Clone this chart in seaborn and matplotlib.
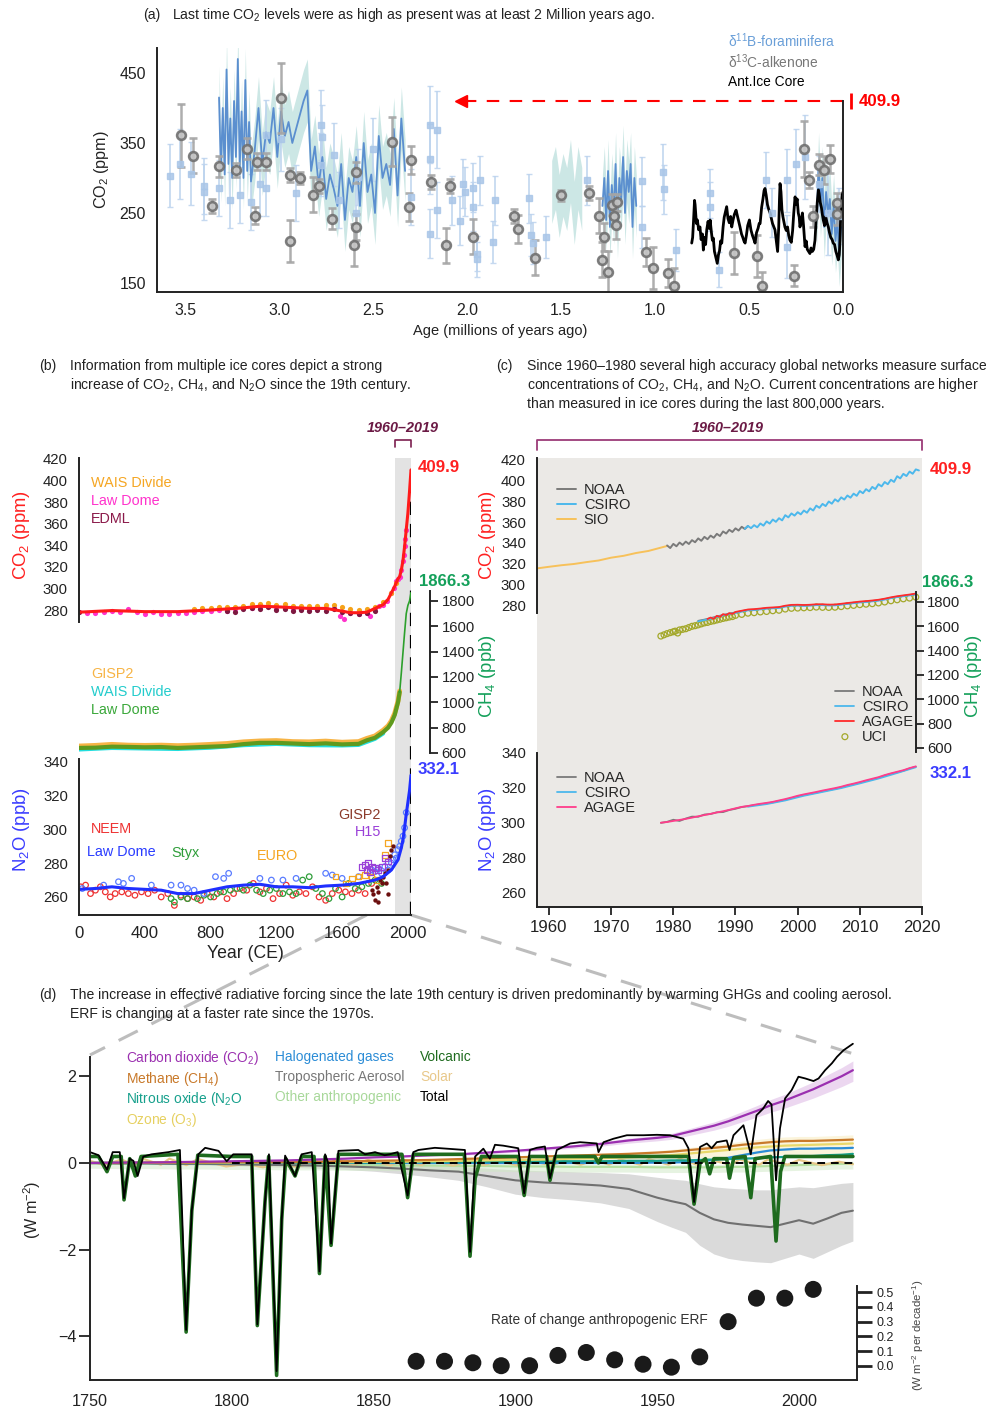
import numpy as np
import matplotlib
matplotlib.use('Agg')
import matplotlib.pyplot as plt
import seaborn as sns
from matplotlib import font_manager
from matplotlib.lines import Line2D

sns.set_theme(style='white')
names = {f.name for f in font_manager.fontManager.ttflist}
narrow = 'Liberation Sans Narrow' in names
fam = 'Liberation Sans Narrow' if narrow else 'Liberation Sans'
k = 1.0 if narrow else 0.86
plt.rcParams['font.family'] = [fam, 'DejaVu Sans']
plt.rcParams['mathtext.fontset'] = 'custom'
plt.rcParams['mathtext.rm'] = fam
plt.rcParams['mathtext.it'] = fam + ':italic'
plt.rcParams['mathtext.bf'] = fam + ':bold'

# ---------------- data: panel (a), age in Myr, CO2 in ppm ----------------
alkenone = [(3.52, 361, 45), (3.46, 332, 25), (3.36, 260, 10), (3.32, 317, 15), (3.23, 311, 10),
            (3.17, 342, 15), (3.13, 246, 12), (3.12, 323, 12), (3.07, 323, 12), (2.99, 414, 50),
            (2.94, 304, 10), (2.94, 210, 30), (2.89, 300, 8), (2.82, 276, 25), (2.79, 288, 10),
            (2.72, 242, 15), (2.60, 204, 30), (2.59, 230, 18), (2.59, 308, 15), (2.40, 352, 35),
            (2.30, 325, 20), (2.31, 258, 20), (2.19, 294, 10), (2.11, 204, 25), (2.09, 289, 10),
            (1.97, 216, 25), (1.75, 246, 10), (1.73, 227, 20), (1.64, 186, 25), (1.50, 275, 8),
            (1.35, 279, 10), (1.30, 246, 25), (1.27, 216, 20), (1.28, 183, 25), (1.25, 165, 30),
            (1.23, 262, 15), (1.22, 246, 15), (1.21, 233, 20), (1.20, 265, 12), (1.05, 194, 20),
            (1.01, 172, 30), (0.93, 164, 20), (0.90, 146, 25), (0.58, 193, 30), (0.46, 188, 30),
            (0.43, 146, 20), (0.26, 160, 15), (0.21, 342, 40), (0.18, 297, 12), (0.16, 245, 15),
            (0.13, 319, 15), (0.10, 312, 20), (0.07, 327, 20), (0.03, 264, 15), (0.03, 248, 15)]
boron_pts = [(3.58, 303, 45), (3.53, 320, 50), (3.47, 306, 45), (3.40, 288, 40), (3.40, 280, 40),
             (3.32, 286, 40), (3.26, 268, 40), (3.21, 275, 40), (3.15, 266, 40), (3.10, 291, 45),
             (3.07, 361, 50), (3.07, 285, 40), (2.99, 355, 45), (2.91, 278, 40), (2.78, 375, 50),
             (2.77, 359, 45), (2.78, 319, 45), (2.71, 333, 45), (2.68, 269, 40), (2.58, 302, 40),
             (2.59, 250, 40), (2.50, 341, 45), (2.30, 273, 40), (2.20, 376, 55), (2.20, 327, 50),
             (2.20, 220, 35), (2.16, 369, 55), (2.16, 254, 40), (2.08, 268, 35), (2.04, 239, 35),
             (2.02, 292, 35), (2.01, 280, 35), (1.97, 286, 35), (1.97, 259, 35), (1.95, 192, 25),
             (1.95, 184, 25), (1.93, 297, 35), (1.85, 268, 35), (1.86, 209, 30), (1.67, 271, 35),
             (1.66, 219, 30), (1.65, 207, 30), (1.58, 216, 30), (1.36, 297, 35), (1.07, 295, 35),
             (1.07, 230, 30), (0.96, 309, 40), (0.95, 284, 35), (0.89, 197, 30), (0.71, 278, 35),
             (0.71, 259, 35), (0.66, 169, 25), (0.41, 297, 40), (0.38, 250, 35), (0.30, 202, 45),
             (0.30, 297, 45), (0.25, 320, 50), (0.20, 330, 60), (0.13, 292, 40), (0.08, 250, 60),
             (0.02, 245, 40)]
boron_run1 = [(3.32, 415), (3.31, 310), (3.30, 400), (3.29, 305), (3.28, 455), (3.27, 320), (3.26, 385),
              (3.25, 300), (3.24, 410), (3.23, 330), (3.22, 470), (3.21, 315), (3.20, 395), (3.19, 300),
              (3.18, 440), (3.17, 310), (3.16, 380), (3.15, 295), (3.13, 340), (3.11, 400), (3.09, 320),
              (3.07, 365), (3.05, 350), (3.03, 400), (3.01, 330), (2.99, 395), (2.97, 360), (2.95, 380),
              (2.93, 350), (2.91, 370), (2.89, 390), (2.87, 410), (2.85, 425), (2.83, 310), (2.81, 345),
              (2.79, 290), (2.77, 330), (2.75, 270), (2.73, 305), (2.71, 285), (2.69, 260), (2.67, 320),
              (2.65, 240), (2.63, 300), (2.61, 280), (2.59, 330), (2.57, 260), (2.55, 350), (2.53, 280),
              (2.51, 305), (2.49, 250), (2.47, 360), (2.45, 300), (2.43, 320), (2.41, 290), (2.39, 370),
              (2.37, 275), (2.35, 385), (2.33, 310)]
boron_run2 = [(1.28, 260), (1.27, 300), (1.26, 240), (1.25, 310), (1.24, 230), (1.23, 290), (1.22, 250),
              (1.21, 320), (1.20, 230), (1.19, 300), (1.18, 270), (1.17, 330), (1.16, 250), (1.15, 310),
              (1.14, 280), (1.13, 320), (1.12, 230), (1.11, 300), (1.10, 260)]
boron_run3 = [(0.14, 240), (0.13, 320), (0.12, 260), (0.11, 300), (0.10, 230), (0.09, 280), (0.08, 250),
              (0.07, 270), (0.06, 220), (0.05, 260), (0.04, 210), (0.03, 240), (0.02, 190), (0.01, 230)]
boron_band_only = [(1.55, 280), (1.53, 300), (1.51, 260), (1.49, 290), (1.47, 270), (1.45, 310),
                   (1.43, 250), (1.41, 300), (1.39, 270)]
boron_unc = 45
ice_core = [(0.805, 207), (0.800, 215), (0.795, 240), (0.790, 268), (0.787, 262), (0.780, 235), (0.775, 240),
            (0.768, 226), (0.761, 230), (0.755, 212), (0.748, 220), (0.743, 197), (0.737, 215), (0.731, 205),
            (0.725, 226), (0.718, 238), (0.712, 228), (0.707, 240), (0.700, 222), (0.695, 211), (0.690, 214),
            (0.684, 195), (0.676, 186), (0.669, 178), (0.663, 190), (0.657, 196), (0.651, 210), (0.645, 207),
            (0.638, 230), (0.632, 244), (0.625, 252), (0.619, 259), (0.612, 242), (0.605, 236), (0.598, 245),
            (0.592, 230), (0.585, 240), (0.578, 248), (0.569, 254), (0.562, 246), (0.555, 238), (0.548, 230),
            (0.540, 220), (0.533, 215), (0.527, 210), (0.521, 207), (0.514, 218), (0.507, 232), (0.498, 240),
            (0.490, 226), (0.482, 218), (0.474, 212), (0.468, 207), (0.460, 222), (0.452, 228), (0.446, 235),
            (0.441, 235), (0.433, 258), (0.426, 270), (0.420, 282), (0.415, 285), (0.409, 276), (0.402, 262),
            (0.395, 255), (0.388, 250), (0.381, 242), (0.375, 235), (0.368, 230), (0.362, 226), (0.355, 210),
            (0.348, 195), (0.342, 230), (0.338, 270), (0.335, 292), (0.330, 280), (0.325, 255), (0.320, 245),
            (0.315, 238), (0.309, 230), (0.302, 225), (0.295, 230), (0.289, 218), (0.282, 211), (0.275, 208),
            (0.268, 225), (0.262, 250), (0.255, 273), (0.250, 262), (0.244, 270), (0.238, 250), (0.233, 244),
            (0.229, 230), (0.222, 238), (0.216, 250), (0.210, 232), (0.202, 202), (0.196, 210), (0.190, 198),
            (0.183, 195), (0.176, 192), (0.170, 200), (0.163, 195), (0.156, 198), (0.149, 211), (0.143, 240),
            (0.137, 265), (0.131, 283), (0.127, 278), (0.121, 265), (0.115, 258), (0.110, 248), (0.105, 240),
            (0.098, 232), (0.092, 245), (0.085, 236), (0.078, 230), (0.072, 222), (0.065, 215), (0.058, 212),
            (0.052, 207), (0.045, 205), (0.038, 195), (0.032, 190), (0.025, 183), (0.020, 190), (0.016, 210),
            (0.012, 250), (0.008, 265), (0.005, 275), (0.002, 278), (0.000, 280)]
co2_present = 409.9
arrow_reach = 2.03

# ---------------- data: panel (b), year CE ----------------
lawdome_co2 = [(0, 278), (50, 277), (100, 277.5), (150, 278), (200, 279), (250, 278), (300, 281), (350, 278),
               (400, 276.5), (450, 278), (500, 276), (550, 276.5), (600, 277), (650, 277.5), (700, 278),
               (750, 279), (800, 279.5), (850, 280), (900, 279), (950, 280.5), (1000, 281.5), (1050, 282),
               (1100, 283), (1150, 283.5), (1200, 282), (1250, 282), (1300, 281), (1350, 281), (1400, 280.5),
               (1450, 281), (1500, 281.5), (1550, 282), (1590, 274), (1610, 272), (1650, 277), (1700, 276.5),
               (1750, 277), (1770, 274), (1800, 282), (1825, 284), (1850, 285), (1875, 288), (1900, 296),
               (1915, 300), (1930, 307), (1940, 309), (1950, 311), (1960, 317), (1970, 325), (1975, 331),
               (1980, 339), (1985, 346), (1990, 354)]
edml_co2 = [(0, 278), (900, 279), (950, 278), (1000, 281), (1050, 282), (1100, 281), (1150, 282.5), (1200, 280),
            (1250, 281), (1300, 279.5), (1350, 280), (1400, 279), (1450, 280), (1500, 279.5), (1550, 280.5),
            (1600, 278), (1650, 277), (1700, 276.5), (1750, 277.5), (1800, 279)]
wais_co2 = [(700, 281), (750, 282), (800, 282), (850, 283), (900, 282.5), (950, 283), (1000, 284), (1050, 285.5),
            (1100, 286), (1150, 286.5), (1200, 285), (1250, 285.5), (1300, 284), (1350, 284), (1400, 283.5),
            (1450, 284), (1500, 284.5), (1550, 285), (1600, 283), (1650, 281), (1700, 280), (1750, 281),
            (1800, 283), (1850, 287), (1900, 296), (1930, 305)]
co2_spline = [(0, 278), (200, 279.5), (400, 278.5), (600, 278.5), (800, 280), (1000, 282), (1100, 283.5),
              (1200, 283), (1400, 281.5), (1500, 281.5), (1600, 279), (1650, 277.5), (1700, 277.5), (1750, 278),
              (1800, 281.5), (1850, 285), (1880, 290), (1900, 296), (1920, 302), (1940, 309), (1950, 311),
              (1960, 316.9), (1970, 325.7), (1980, 338.8), (1990, 354.4), (2000, 369.7), (2010, 389.9),
              (2019, 409.9)]
lawdome_ch4 = [(0, 640), (100, 642), (200, 650), (300, 648), (400, 645), (500, 647), (600, 640), (700, 645),
               (800, 650), (900, 655), (1000, 670), (1100, 680), (1200, 680), (1300, 675), (1400, 670), (1500, 676),
               (1600, 668), (1700, 672), (1750, 700), (1800, 720), (1850, 765), (1880, 800), (1900, 840),
               (1920, 900), (1940, 1000), (1950, 1080)]
gisp2_ch4 = [(0, 655), (100, 660), (200, 668), (300, 662), (400, 660), (500, 662), (600, 658), (700, 662),
             (800, 668), (900, 675), (1000, 688), (1100, 695), (1200, 698), (1300, 690), (1400, 688), (1500, 694),
             (1600, 685), (1700, 690), (1750, 715), (1800, 735), (1850, 780), (1880, 815), (1900, 855),
             (1920, 915), (1940, 1010), (1950, 1090)]
wais_ch4 = [(0, 628), (200, 640), (400, 636), (600, 632), (800, 642), (1000, 662), (1200, 672), (1400, 662),
            (1600, 660), (1700, 664), (1800, 712), (1850, 755)]
ch4_recent = [(1950, 1080), (1960, 1230), (1970, 1390), (1980, 1550), (1990, 1700), (2000, 1765), (2010, 1800),
              (2019, 1866)]
n2o_spline = [(0, 264.5), (100, 265), (200, 266), (300, 265), (400, 264.5), (500, 264), (600, 262), (700, 262),
              (800, 264), (900, 266), (1000, 267), (1100, 267.5), (1200, 266), (1300, 266), (1400, 265.5),
              (1500, 266.5), (1600, 267), (1700, 268), (1750, 269), (1800, 270), (1850, 272), (1900, 276),
              (1940, 282), (1960, 289), (1970, 294), (1980, 301), (1990, 309), (2000, 316), (2010, 323),
              (2019, 332.1)]
neem_n2o = [(10, 266), (40, 267), (70, 262), (100, 264), (130, 266), (160, 263), (190, 260), (220, 262), (260, 263),
            (300, 262), (340, 261), (380, 263), (420, 262), (460, 264), (500, 260), (540, 262), (580, 255),
            (620, 261), (660, 259), (700, 260), (740, 258), (780, 262), (820, 260), (860, 263), (900, 259),
            (940, 262), (980, 265), (1020, 264), (1060, 268), (1100, 263), (1140, 265), (1180, 259), (1220, 262),
            (1260, 267), (1300, 261), (1340, 263), (1380, 262), (1420, 266), (1460, 260), (1500, 258),
            (1540, 262), (1580, 264), (1620, 263), (1660, 262), (1700, 264), (1740, 262), (1780, 268)]
lawdome_n2o = [(20, 265), (150, 267), (240, 269), (270, 268), (320, 271), (440, 267), (560, 267), (620, 267),
               (660, 265), (700, 264), (760, 262), (830, 272), (880, 271), (910, 274), (1100, 271), (1170, 270),
               (1240, 270), (1320, 271), (1500, 274), (1540, 273), (1600, 271), (1700, 272), (1780, 276),
               (1800, 275), (1820, 277), (1840, 274), (1860, 278), (1880, 276), (1900, 280), (1910, 282),
               (1920, 285), (1930, 283), (1940, 288), (1950, 290), (1960, 293), (1970, 296), (1980, 301),
               (1990, 310)]
styx_n2o = [(560, 259), (580, 257), (620, 260), (660, 259), (720, 259), (760, 261), (800, 260), (840, 262),
            (880, 263), (920, 264), (960, 265), (1000, 264), (1040, 267), (1080, 264), (1120, 262), (1160, 264),
            (1200, 265), (1240, 262), (1280, 263), (1320, 262), (1360, 270), (1400, 272), (1440, 265),
            (1480, 262), (1520, 259), (1560, 265), (1600, 260), (1640, 268), (1680, 265), (1720, 266),
            (1760, 268), (1800, 270), (1840, 268)]
euro_n2o = [(1560, 272), (1620, 268), (1660, 271), (1700, 272), (1740, 273), (1780, 272), (1820, 270),
            (1860, 285), (1880, 292)]
gisp2_n2o = [(1780, 264), (1790, 262), (1800, 258), (1810, 266), (1820, 263), (1830, 270), (1840, 268),
             (1850, 272), (1860, 274), (1870, 268), (1880, 276), (1890, 284), (1900, 288), (1910, 290),
             (1880, 262), (1820, 257)]
h15_n2o = [(1720, 278), (1740, 279), (1750, 276), (1760, 280), (1770, 275), (1780, 278), (1800, 277),
           (1820, 276), (1840, 278), (1860, 283), (1880, 281)]
recent_span = (1922, 2019)

# ---------------- data: panel (c), surface networks ----------------
sio_co2 = [(1958, 315.3), (1960, 316.9), (1962, 318.4), (1964, 319.6), (1966, 321.4), (1968, 323.0),
           (1970, 325.7), (1972, 327.5), (1974, 330.2), (1976, 332.2), (1978, 335.4), (1979, 337.0)]
noaa_co2 = [(1979.0, 337.5), (1979.5, 335.0), (1980.0, 339.0), (1980.5, 336.7), (1981.0, 340.3), (1981.5, 338.0),
            (1982.0, 341.2), (1982.5, 338.9), (1983.0, 342.6), (1983.5, 340.6), (1984.0, 344.3), (1984.5, 342.0),
            (1985.0, 345.8), (1985.5, 343.5), (1986.0, 347.0), (1986.5, 344.9), (1987.0, 348.7), (1987.5, 346.6),
            (1988.0, 351.0), (1988.5, 349.0), (1989.0, 352.6), (1989.5, 350.5), (1990.0, 354.0), (1990.5, 351.9),
            (1991.0, 355.5), (1991.5, 353.4), (1992.0, 356.3)]
csiro_co2 = [(1991.5, 353.6), (1992.0, 356.3), (1992.5, 354.2), (1993.0, 357.1), (1993.5, 355.0), (1994.0, 358.7),
             (1994.5, 356.6), (1995.0, 360.7), (1995.5, 358.6), (1996.0, 362.5), (1996.5, 360.3), (1997.0, 363.8),
             (1997.5, 361.7), (1998.0, 366.7), (1998.5, 364.6), (1999.0, 368.4), (1999.5, 366.3), (2000.0, 369.6),
             (2000.5, 367.5), (2001.0, 371.2), (2001.5, 369.1), (2002.0, 373.3), (2002.5, 371.2), (2003.0, 375.9),
             (2003.5, 373.8), (2004.0, 377.6), (2004.5, 375.5), (2005.0, 379.9), (2005.5, 377.8), (2006.0, 382.0),
             (2006.5, 379.9), (2007.0, 383.9), (2007.5, 381.8), (2008.0, 385.7), (2008.5, 383.6), (2009.0, 387.5),
             (2009.5, 385.4), (2010.0, 390.0), (2010.5, 387.9), (2011.0, 391.8), (2011.5, 389.7), (2012.0, 394.0),
             (2012.5, 391.9), (2013.0, 396.6), (2013.5, 394.5), (2014.0, 398.7), (2014.5, 396.6), (2015.0, 400.9),
             (2015.5, 398.8), (2016.0, 404.3), (2016.5, 402.2), (2017.0, 406.6), (2017.5, 404.5), (2018.0, 408.8),
             (2018.5, 406.7), (2019.0, 410.9), (2019.5, 409.9)]
net_years = [1984, 1985, 1986, 1987, 1988, 1989, 1990, 1991, 1992, 1993, 1994, 1995, 1996, 1997, 1998, 1999,
             2000, 2001, 2002, 2003, 2004, 2005, 2006, 2007, 2008, 2009, 2010, 2011, 2012, 2013, 2014, 2015,
             2016, 2017, 2018, 2019]
noaa_ch4 = [1645, 1655, 1667, 1681, 1693, 1705, 1714, 1724, 1735, 1737, 1742, 1749, 1751, 1754, 1765, 1772,
            1773, 1771, 1773, 1777, 1777, 1774, 1775, 1781, 1787, 1793, 1799, 1803, 1808, 1814, 1823, 1834,
            1843, 1850, 1857, 1866]
csiro_ch4 = [1640, 1651, 1662, 1677, 1689, 1701, 1710, 1721, 1731, 1734, 1739, 1745, 1748, 1751, 1762, 1769,
             1770, 1768, 1770, 1774, 1774, 1771, 1772, 1778, 1784, 1790, 1796, 1800, 1805, 1811, 1820, 1831,
             1840, 1847, 1854, 1863]
agage_ch4 = [(1985.5, 1660), (1986, 1672), (1986.5, 1662), (1987, 1686), (1987.5, 1678), (1988, 1700), (1988.5, 1692),
             (1989, 1708), (1989.5, 1702), (1990, 1718), (1991, 1728), (1992, 1738), (1993, 1741), (1994, 1746),
             (1995, 1752), (1996, 1755), (1997, 1758), (1998, 1769), (1999, 1776), (2000, 1777), (2001, 1775),
             (2002, 1777), (2003, 1781), (2004, 1781), (2005, 1778), (2006, 1779), (2007, 1785), (2008, 1791),
             (2009, 1797), (2010, 1803), (2011, 1807), (2012, 1812), (2013, 1818), (2014, 1827), (2015, 1838),
             (2016, 1847), (2017, 1854), (2018, 1861), (2019, 1869)]
uci_ch4 = [(1978.0, 1520), (1978.5, 1530), (1979.0, 1540), (1979.5, 1548), (1980.0, 1555), (1980.3, 1560),
           (1980.7, 1545), (1981.0, 1570), (1981.5, 1575), (1982.0, 1580), (1982.5, 1590), (1983.0, 1600),
           (1983.5, 1605), (1984.0, 1612), (1984.5, 1620), (1985.0, 1628), (1985.5, 1632), (1986.0, 1640),
           (1986.5, 1645), (1987.0, 1652), (1987.5, 1658), (1988.0, 1665), (1988.5, 1670), (1989.0, 1676),
           (1989.5, 1680), (1990.0, 1690), (1991, 1698), (1992, 1708), (1993, 1712), (1994, 1718), (1995, 1722),
           (1996, 1728), (1997, 1732), (1998, 1742), (1999, 1748), (2000, 1750), (2001, 1752), (2002, 1754),
           (2003, 1758), (2004, 1756), (2005, 1755), (2006, 1757), (2007, 1762), (2008, 1768), (2009, 1772),
           (2010, 1778), (2011, 1782), (2012, 1786), (2013, 1792), (2014, 1800), (2015, 1810), (2016, 1818),
           (2017, 1826), (2018, 1832), (2019, 1840)]
n2o_years = [1978, 1979, 1980, 1981, 1982, 1983, 1984, 1985, 1986, 1987, 1988, 1989, 1990, 1991, 1992, 1993,
             1994, 1995, 1996, 1997, 1998, 1999, 2000, 2001, 2002, 2003, 2004, 2005, 2006, 2007, 2008, 2009,
             2010, 2011, 2012, 2013, 2014, 2015, 2016, 2017, 2018, 2019]
noaa_n2o = [299.8, 300.4, 301.6, 300.9, 302.3, 303.4, 303.3, 304.6, 304.9, 305.9, 306.0, 307.2, 307.9, 308.9,
            309.4, 310.0, 310.5, 311.0, 311.6, 312.4, 313.1, 314.0, 315.0, 315.8, 316.5, 317.2, 318.0, 318.7,
            319.4, 320.2, 321.2, 322.0, 322.9, 323.9, 324.8, 325.7, 327.0, 328.0, 328.9, 329.8, 331.1, 332.1]
agage_n2o = [299.9, 300.3, 300.9, 301.5, 302.1, 302.8, 303.6, 304.3, 305.0, 305.8, 306.5, 307.3, 308.2, 309.0,
             309.5, 310.2, 310.8, 311.3, 311.9, 312.7, 313.5, 314.4, 315.4, 316.2, 316.9, 317.6, 318.4, 319.1,
             319.8, 320.6, 321.6, 322.4, 323.3, 324.3, 325.2, 326.1, 327.3, 328.3, 329.2, 330.1, 331.3, 332.3]
csiro_n2o = [(1992, 309.1), (1995, 310.6), (1998, 312.7), (2001, 315.4), (2004, 317.6), (2007, 319.8),
             (2010, 322.5), (2013, 325.3), (2016, 328.5), (2019, 331.8)]

# ---------------- data: panel (d), ERF in W m-2 ----------------
erf_years = [1750, 1760, 1770, 1780, 1790, 1800, 1810, 1820, 1830, 1840, 1850, 1860, 1870, 1880, 1890, 1900,
             1910, 1920, 1930, 1940, 1950, 1955, 1960, 1965, 1970, 1975, 1980, 1985, 1990, 1995, 2000, 2005,
             2010, 2015, 2019]
erf_co2 = [0.00, 0.01, 0.01, 0.02, 0.03, 0.04, 0.05, 0.06, 0.08, 0.10, 0.13, 0.15, 0.18, 0.20, 0.24, 0.28,
           0.33, 0.38, 0.44, 0.52, 0.58, 0.62, 0.70, 0.78, 0.86, 0.96, 1.08, 1.20, 1.33, 1.44, 1.57, 1.70,
           1.85, 2.00, 2.14]
erf_ch4 = [0.00, 0.00, 0.01, 0.01, 0.01, 0.02, 0.02, 0.02, 0.03, 0.04, 0.05, 0.06, 0.07, 0.09, 0.11, 0.13,
           0.15, 0.17, 0.19, 0.21, 0.24, 0.26, 0.29, 0.32, 0.35, 0.38, 0.42, 0.45, 0.48, 0.50, 0.51, 0.51,
           0.52, 0.53, 0.54]
erf_n2o = [0.00, 0.00, 0.00, 0.00, 0.00, 0.00, 0.01, 0.01, 0.01, 0.01, 0.01, 0.02, 0.02, 0.02, 0.03, 0.03,
           0.04, 0.04, 0.04, 0.05, 0.05, 0.06, 0.06, 0.07, 0.08, 0.09, 0.10, 0.11, 0.13, 0.14, 0.15, 0.16,
           0.18, 0.19, 0.21]
erf_halo = [0.00, 0.00, 0.00, 0.00, 0.00, 0.00, 0.00, 0.00, 0.00, 0.00, 0.00, 0.00, 0.00, 0.00, 0.00, 0.00,
            0.00, 0.00, 0.00, 0.00, 0.01, 0.01, 0.02, 0.04, 0.07, 0.12, 0.18, 0.24, 0.29, 0.31, 0.33, 0.33,
            0.34, 0.34, 0.35]
erf_o3 = [0.00, 0.00, 0.00, 0.01, 0.01, 0.01, 0.01, 0.02, 0.02, 0.02, 0.03, 0.03, 0.04, 0.05, 0.06, 0.07,
          0.08, 0.10, 0.11, 0.13, 0.16, 0.18, 0.21, 0.24, 0.27, 0.30, 0.33, 0.36, 0.38, 0.40, 0.41, 0.42,
          0.43, 0.44, 0.45]
erf_aer = [0.00, -0.01, -0.01, -0.02, -0.02, -0.03, -0.04, -0.05, -0.06, -0.08, -0.10, -0.13, -0.17, -0.20,
           -0.30, -0.40, -0.45, -0.48, -0.52, -0.60, -0.80, -0.88, -0.95, -1.15, -1.30, -1.38, -1.42, -1.45,
           -1.48, -1.40, -1.32, -1.40, -1.28, -1.15, -1.10]
erf_aer_hi = [0.00, 0.00, 0.00, 0.00, -0.01, -0.01, -0.01, -0.02, -0.02, -0.03, -0.03, -0.04, -0.06, -0.08,
              -0.12, -0.16, -0.18, -0.20, -0.22, -0.25, -0.33, -0.37, -0.40, -0.48, -0.55, -0.58, -0.60, -0.62,
              -0.62, -0.58, -0.55, -0.57, -0.52, -0.47, -0.45]
erf_aer_lo = [0.00, -0.02, -0.03, -0.04, -0.05, -0.06, -0.08, -0.10, -0.12, -0.15, -0.19, -0.25, -0.32, -0.40,
              -0.55, -0.72, -0.80, -0.85, -0.92, -1.05, -1.35, -1.48, -1.60, -1.90, -2.10, -2.20, -2.25, -2.28,
              -2.30, -2.20, -2.10, -2.20, -2.05, -1.90, -1.80]
erf_other = [0.00, -0.01, -0.01, -0.02, -0.02, -0.03, -0.03, -0.04, -0.04, -0.05, -0.05, -0.06, -0.06, -0.07,
             -0.07, -0.08, -0.08, -0.09, -0.09, -0.09, -0.10, -0.10, -0.10, -0.10, -0.10, -0.09, -0.09, -0.08,
             -0.07, -0.06, -0.05, -0.04, -0.03, -0.02, -0.02]
erf_solar = [(1750, 0.05), (1755, -0.05), (1761, 0.08), (1766, -0.05), (1769, 0.09), (1775, -0.04), (1778, 0.10),
             (1784, -0.05), (1788, 0.09), (1798, -0.08), (1805, -0.02), (1811, -0.10), (1816, -0.02), (1823, -0.09),
             (1830, 0.04), (1833, -0.05), (1837, 0.08), (1843, -0.04), (1848, 0.07), (1856, -0.06), (1860, 0.08),
             (1867, -0.05), (1870, 0.07), (1878, -0.06), (1884, 0.05), (1889, -0.05), (1894, 0.05), (1901, -0.06),
             (1906, 0.04), (1913, -0.06), (1917, 0.06), (1923, -0.04), (1928, 0.07), (1933, -0.04), (1937, 0.08),
             (1944, -0.04), (1947, 0.09), (1954, -0.04), (1958, 0.10), (1964, -0.04), (1968, 0.08), (1976, -0.04),
             (1979, 0.08), (1986, -0.04), (1989, 0.08), (1996, -0.04), (2000, 0.07), (2008, -0.05), (2014, 0.03),
             (2019, -0.03)]
erf_volcanic = [(1750, 0.15), (1753, 0.15), (1756, -0.2), (1758, 0.15), (1761, 0.15), (1762, -0.85), (1764, 0.1),
                (1766, -0.3), (1768, 0.15), (1781, 0.2), (1783.9, -3.9), (1785.9, -1.1), (1788, 0.18), (1800, 0.15),
                (1807, 0.15), (1809, -3.75), (1811.7, -0.9), (1813, 0.15), (1815.8, -4.9), (1817.6, -1.3),
                (1819, 0.1), (1822.3, -0.3), (1824.6, 0.15), (1829, 0.15), (1830.9, -2.55), (1832.9, 0.15),
                (1835, -1.9), (1837.6, 0.2), (1860, 0.2), (1862, -0.8), (1864, 0.2), (1882, 0.2), (1884, -2.15),
                (1885.8, -0.35), (1888, 0.15), (1901, 0.15), (1903.1, -0.75), (1905, 0.15), (1911, 0.15),
                (1912.2, -0.4), (1914, 0.15), (1928, 0.15), (1929.3, 0.0), (1930.5, 0.15), (1961, 0.15),
                (1963, -0.95), (1965.1, 0.0), (1967, 0.1), (1968.5, -0.25), (1970, 0.1), (1974.5, 0.1),
                (1975.5, -0.35), (1977, 0.12), (1981, 0.15), (1983, -0.8), (1984.5, 0.1), (1990, 0.15),
                (1991.9, -1.8), (1993.5, -0.2), (1995, 0.15), (2019, 0.15)]
erf_total = [(1750, 0.25), (1753, 0.18), (1756, -0.15), (1758, 0.25), (1760.5, 0.25), (1762, -0.81), (1764, 0.1),
             (1765.3, 0.05), (1766.8, -0.3), (1768.8, 0.15), (1771.7, 0.2), (1777.6, 0.25), (1781.7, 0.3),
             (1783.9, -3.85), (1785.9, -1.08), (1788.2, 0.2), (1790.6, 0.35), (1795.3, 0.28), (1798.2, 0.04),
             (1800.5, 0.2), (1807, 0.2), (1809, -3.72), (1811.7, -0.9), (1813.1, 0.2), (1815.8, -4.8),
             (1817.6, -1.3), (1818.8, 0.17), (1822.3, -0.3), (1824.6, 0.2), (1828.2, 0.25), (1830.9, -2.5),
             (1832.9, 0.2), (1834, 0.0), (1835, -1.86), (1837.6, 0.28), (1844.6, 0.3), (1847, 0.2), (1850.5, 0.25),
             (1853.9, 0.18), (1855.6, 0.2), (1858.5, 0.25), (1862, -0.75), (1864, 0.25), (1865.8, 0.3),
             (1871.6, 0.35), (1882.2, 0.3), (1884, -2.05), (1885.8, 0.15), (1888.7, 0.33), (1891, 0.1),
             (1892.8, 0.42), (1895.7, 0.4), (1901, 0.34), (1903.1, -0.7), (1905.1, 0.3), (1907.5, 0.35),
             (1910.4, 0.38), (1912.2, -0.35), (1914.6, 0.3), (1919.3, 0.45), (1922.8, 0.48), (1928.7, 0.45),
             (1929.3, 0.25), (1931.1, 0.48), (1934.6, 0.56), (1939.3, 0.64), (1945.2, 0.64), (1949.9, 0.65),
             (1954.5, 0.64), (1959.2, 0.56), (1961, 0.34), (1963, -0.9), (1965.1, 0.37), (1967.5, 0.45),
             (1969.2, 0.34), (1971, 0.48), (1974.5, 0.52), (1975.5, 0.3), (1976.9, 0.64), (1980.4, 0.87),
             (1983, 0.2), (1985, 1.1), (1987.3, 1.25), (1989.1, 1.43), (1990.3, 1.35), (1991.9, -0.4),
             (1993.3, 0.8), (1995.1, 1.49), (1997.4, 1.68), (1999.8, 1.99), (2002.2, 1.95), (2005.1, 1.89),
             (2006.9, 1.95), (2009.2, 2.14), (2011.6, 2.3), (2013.4, 2.45), (2015.7, 2.6), (2019, 2.75)]
decade_mid = [1865, 1875, 1885, 1895, 1905, 1915, 1925, 1935, 1945, 1955, 1965, 1975, 1985, 1995, 2005]
erf_rate = [0.03, 0.03, 0.02, 0.0, 0.0, 0.07, 0.09, 0.04, 0.01, -0.01, 0.06, 0.30, 0.46, 0.46, 0.52]

# ---------------- colours ----------------
RED, GREEN, BLUE = '#ff2020', '#14a05a', '#3a3cff'
INK = '#222222'
TITLE = 11.7


def xy(pairs):
    a = np.array(pairs, dtype=float)
    return a[:, 0], a[:, 1]


W, H = 986, 1409
fig = plt.figure(figsize=(W / 100, H / 100), dpi=100)


def box(x0, y0, x1, y1):
    return fig.add_axes([x0 / W, 1 - y1 / H, (x1 - x0) / W, (y1 - y0) / H])


def txt(x, y, s, size=11, **kw):
    kw.setdefault('va', 'center')
    kw.setdefault('color', INK)
    fig.text(x / W, 1 - y / H, s, fontsize=size * k, **kw)


def clean(ax, keep=('left', 'bottom'), size=12.5):
    ax.patch.set_alpha(0)
    for s in ['left', 'right', 'top', 'bottom']:
        ax.spines[s].set_visible(s in keep)
        ax.spines[s].set_color(INK)
        ax.spines[s].set_linewidth(1.4)
    ax.tick_params(colors=INK, labelsize=size * k, length=6, width=1.3, pad=2)


# ======================= panel (a) =======================
ax = box(157, 48, 843, 292)
clean(ax, keep=('left', 'bottom', 'right'), size=13.3)
ax.set_xlim(3.65, 0.0)
ax.set_ylim(137.1, 485.7)
ax.spines['right'].set_bounds(137.1, co2_present)
ax.tick_params(axis='y', right=False, labelright=False)
ax.set_xticks([3.5, 3.0, 2.5, 2.0, 1.5, 1.0, 0.5, 0.0])
ax.set_xticklabels(['3.5', '3.0', '2.5', '2.0', '1.5', '1.0', '0.5', '0.0'])
ax.set_yticks([150, 250, 350, 450])

for run in [boron_run1, boron_run2, boron_run3, boron_band_only]:
    ra, rc = xy(run)
    ax.fill_between(ra, rc - boron_unc, rc + boron_unc, color='#8fcac6', alpha=0.45, lw=0)
ba, bc = xy([p[:2] for p in boron_pts])
ax.errorbar(ba, bc, yerr=[p[2] for p in boron_pts], fmt='s', ms=4, color='#a9c6e8', ecolor='#bcd3ee',
            elinewidth=1.3, capsize=2.5, alpha=0.85)
for run in [boron_run1, boron_run2, boron_run3]:
    ra, rc = xy(run)
    ax.plot(ra, rc, color='#5b8fcf', lw=1.3)
aa, ac = xy([p[:2] for p in alkenone])
ax.errorbar(aa, ac, yerr=[p[2] for p in alkenone], fmt='o', ms=6.3, mfc='#c4c4c4', mec='#707070', mew=1.9,
            ecolor='#a5a5a5', elinewidth=1.8, capsize=3, alpha=0.9)
ia, ic = xy(ice_core)
ax.plot(ia, ic, color='black', lw=2)
ax.plot([0.0, arrow_reach - 0.03], [co2_present, co2_present], color='red', lw=1.5, ls=(0, (6, 5)))
ax.plot([arrow_reach], [co2_present], marker='<', color='red', ms=8)
ax.plot([-0.045], [co2_present], marker='|', color='red', ms=12, mew=2, clip_on=False)
ax.text(-0.085, co2_present, '409.9', color='red', fontsize=14 * k, fontweight='bold', va='center')
ax.set_xlabel('Age (millions of years ago)', fontsize=12.3 * k, color=INK, labelpad=4)
ax.set_ylabel('CO$_2$ (ppm)', fontsize=13.5 * k, color=INK, labelpad=6)

txt(143, 15, '(a)', TITLE)
txt(172, 15, 'Last time CO$_2$ levels were as high as present was at least 2 Million years ago.', TITLE)
txt(728, 41, 'δ$^{11}$B-foraminifera', 11.5, color='#6a9fd8')
txt(728, 62, 'δ$^{13}$C-alkenone', 11.5, color='#777777')
txt(728, 82, 'Ant.Ice Core', 11.5, color='black')

# ======================= panel (b) =======================
XB = (0, 2019)
bgb = box(79, 458, 411, 915)
bgb.set_xlim(*XB)
bgb.set_ylim(0, 1)
bgb.axis('off')
bgb.axvspan(recent_span[0], recent_span[1], ymin=0, ymax=1, color='#e3e3e3', lw=0)
bgb.axvline(recent_span[1], ymin=0, ymax=0.974, color='black', lw=1.6, ls=(0, (6, 4)))
bgb.plot([recent_span[0], recent_span[0], recent_span[1], recent_span[1]], [1.024, 1.039, 1.039, 1.024],
         color='#7b1f4f', lw=1.2, clip_on=False, transform=bgb.get_xaxis_transform())
txt(403, 428, '1960–2019', 12, color='#6b1a45', ha='center', style='italic', fontweight='bold')

axc = box(79, 458, 411, 622)
clean(axc, keep=('left',))
axc.set_xlim(*XB)
axc.set_ylim(268.9, 420.9)
axc.set_xticks([])
axc.set_yticks(range(280, 421, 20))
x, y = xy(lawdome_co2)
axc.scatter(x, y, s=14, color='#ff33cc', lw=0)
x, y = xy(wais_co2)
axc.scatter(x, y, s=14, color='#f5a31a', lw=0)
x, y = xy(edml_co2)
axc.scatter(x, y, s=14, color='#7d1840', lw=0)
x, y = xy(co2_spline)
axc.plot(x, y, color='#ff1a1a', lw=2.2)

axm = box(79, 587, 411, 755)
clean(axm, keep=('right',))
axm.spines['right'].set_position(('outward', 14))
axm.spines['right'].set_bounds(600, 1875)
axm.set_xlim(*XB)
axm.set_ylim(584.2, 1910.5)
axm.set_xticks([])
axm.yaxis.tick_right()
axm.set_yticks(range(600, 1801, 200))
x, y = xy(gisp2_ch4)
axm.plot(x, y, color='#f7b445', lw=3.5)
x, y = xy(wais_ch4)
axm.plot(x, y, color='#22dede', lw=3)
x, y = xy(lawdome_ch4)
axm.plot(x, y, color='#5f9a1e', lw=3)
x, y = xy(ch4_recent)
axm.plot(x, y, color='#2ca02c', lw=1.2)

axn = box(79, 755, 411, 915)
clean(axn)
axn.set_xlim(*XB)
axn.set_ylim(249.3, 344.1)
axn.spines['left'].set_bounds(249.3, 342)
axn.set_yticks(range(260, 341, 20))
axn.set_xticks(range(0, 2001, 400))
axn.tick_params(axis='x', labelsize=14 * k)
x, y = xy(neem_n2o)
axn.scatter(x, y, s=16, facecolors='none', edgecolors='#ee3333', lw=0.9)
x, y = xy(styx_n2o)
axn.scatter(x, y, s=16, facecolors='none', edgecolors='#2f9e3a', lw=0.9)
x, y = xy(lawdome_n2o)
axn.scatter(x, y, s=16, facecolors='none', edgecolors='#5a7cff', lw=0.9)
x, y = xy(euro_n2o)
axn.scatter(x, y, s=16, marker='s', facecolors='none', edgecolors='#f5a623', lw=0.9)
x, y = xy(h15_n2o)
axn.scatter(x, y, s=18, marker='s', facecolors='none', edgecolors='#9a40d8', lw=0.9)
x, y = xy(gisp2_n2o)
axn.scatter(x, y, s=10, color='#6b0f0f', lw=0)
x, y = xy(n2o_spline)
axn.plot(x, y, color='#1f2fff', lw=2.2)
axn.set_xlabel('Year (CE)', fontsize=14.8 * k, color=INK, labelpad=3)

txt(39, 366, '(b)', TITLE)
txt(70, 366, 'Information from multiple ice cores depict a strong', TITLE)
txt(70, 385, 'increase of CO$_2$, CH$_4$, and N$_2$O since the 19th century.', TITLE)
txt(22, 535, 'CO$_2$ (ppm)', 15.5, color=RED, rotation=90, ha='center')
txt(22, 830, 'N$_2$O (ppb)', 15.5, color=BLUE, rotation=90, ha='center')
txt(487, 676, 'CH$_4$ (ppb)', 15.5, color=GREEN, rotation=90, ha='center')
txt(418, 467, '409.9', 14, color=RED, fontweight='bold')
txt(419, 581, '1866.3', 14, color=GREEN, fontweight='bold')
txt(418, 770, '332.1', 14, color=BLUE, fontweight='bold')
txt(91, 483, 'WAIS Divide', 12, color='#f5a623')
txt(91, 501, 'Law Dome', 12, color='#ff33cc')
txt(91, 519, 'EDML', 12, color='#8b1a4a')
txt(91, 674, 'GISP2', 12, color='#f7b445')
txt(91, 692, 'WAIS Divide', 12, color='#22cccc')
txt(91, 710, 'Law Dome', 12, color='#3aa83a')
txt(91, 829, 'NEEM', 12, color='#ee3333')
txt(87, 852, 'Law Dome', 12, color='#2a3cff')
txt(171, 853, 'Styx', 12, color='#2f9e3a')
txt(257, 856, 'EURO', 12, color='#f5a623')
txt(338, 815, 'GISP2', 12, color='#8b3a2a')
txt(355, 832, 'H15', 12, color='#9a40d8')

# ======================= panel (c) =======================
XC = (1958.07, 2020)
bgc = box(537, 458, 922, 907)
bgc.set_facecolor('#ebe9e6')
for s in ['left', 'right', 'top']:
    bgc.spines[s].set_visible(False)
bgc.spines['bottom'].set_color(INK)
bgc.spines['bottom'].set_linewidth(1.4)
bgc.set_xlim(*XC)
bgc.set_ylim(0, 1)
bgc.set_yticks([])
bgc.set_xticks(range(1960, 2021, 10))
bgc.tick_params(axis='x', colors=INK, labelsize=14 * k, length=6, width=1.3, bottom=True)
bgc.plot([XC[0], XC[0], XC[1], XC[1]], [1.018, 1.040, 1.040, 1.018], color='#9c3c78', lw=1.3,
         clip_on=False, transform=bgc.get_xaxis_transform())
txt(728, 428, '1960–2019', 12, color='#6b1a45', ha='center', style='italic', fontweight='bold')

cc = box(537, 458, 922, 613)
clean(cc, keep=('left',))
cc.set_xlim(*XC)
cc.set_ylim(272.3, 421.9)
cc.set_xticks([])
cc.set_yticks(range(280, 421, 20))
x, y = xy(sio_co2)
cc.plot(x, y, color='#f7c15a', lw=1.4, label='SIO')
x, y = xy(noaa_co2)
cc.plot(x, y, color='#7a7a7a', lw=1.4, label='NOAA')
x, y = xy(csiro_co2)
cc.plot(x, y, color='#4cb8ec', lw=1.4, label='CSIRO')
h, l = cc.get_legend_handles_labels()
cc.legend([h[1], h[2], h[0]], [l[1], l[2], l[0]], loc='upper left', bbox_to_anchor=(550 / W, 1 - 476 / H),
          bbox_transform=fig.transFigure, frameon=False, fontsize=12.3 * k, handlelength=1.3,
          handletextpad=0.5, labelspacing=0.05, borderpad=0)

cm = box(537, 587, 922, 752)
clean(cm, keep=('right',))
cm.spines['right'].set_position(('axes', (916 - 537) / (922 - 537)))
cm.set_xlim(*XC)
cm.set_ylim(567, 1923)
cm.spines['right'].set_bounds(567, 1880)
cm.set_xticks([])
cm.yaxis.tick_right()
cm.set_yticks(range(600, 1801, 200))
x, y = xy(uci_ch4)
cm.scatter(x, y, s=18, facecolors='none', edgecolors='#a3a82a', lw=0.9, label='UCI')
cm.plot(net_years, noaa_ch4, color='#7a7a7a', lw=1.3, label='NOAA')
cm.plot(net_years, csiro_ch4, color='#4cb8ec', lw=1.3, label='CSIRO')
x, y = xy(agage_ch4)
cm.plot(x, y, color='#ff2a2a', lw=1.3, label='AGAGE')
h, l = cm.get_legend_handles_labels()
cm.legend(h[1:] + h[:1], l[1:] + l[:1], loc='upper left', bbox_to_anchor=(828 / W, 1 - 678 / H),
          bbox_transform=fig.transFigure, frameon=False, fontsize=12.3 * k, handlelength=1.3,
          handletextpad=0.5, labelspacing=0.05, borderpad=0)

cn = box(537, 753, 922, 907)
clean(cn, keep=('left',))
cn.set_xlim(*XC)
cn.set_ylim(251.4, 340)
cn.spines['left'].set_bounds(251.4, 340)
cn.set_xticks([])
cn.set_yticks(range(260, 341, 20))
cn.plot(n2o_years, noaa_n2o, color='#7a7a7a', lw=1.3, label='NOAA')
x, y = xy(csiro_n2o)
cn.plot(x, y, color='#4cb8ec', lw=1.3, label='CSIRO')
cn.plot(n2o_years, agage_n2o, color='#ff3d8b', lw=1.3, label='AGAGE')
cn.legend(loc='upper left', bbox_to_anchor=(550 / W, 1 - 764 / H), bbox_transform=fig.transFigure,
          frameon=False, fontsize=12.3 * k, handlelength=1.3, handletextpad=0.5, labelspacing=0.05, borderpad=0)

txt(496, 366, '(c)', TITLE)
txt(527, 366, 'Since 1960–1980 several high accuracy global networks measure surface', TITLE)
txt(527, 385, 'concentrations of CO$_2$, CH$_4$, and N$_2$O. Current concentrations are higher', TITLE)
txt(527, 404, 'than measured in ice cores during the last 800,000 years.', TITLE)
txt(487, 535, 'CO$_2$ (ppm)', 15.5, color=RED, rotation=90, ha='center')
txt(487, 830, 'N$_2$O (ppb)', 15.5, color=BLUE, rotation=90, ha='center')
txt(974, 676, 'CH$_4$ (ppb)', 15.5, color=GREEN, rotation=90, ha='center')
txt(930, 470, '409.9', 14, color=RED, fontweight='bold')
txt(922, 582, '1866.3', 14, color=GREEN, fontweight='bold')
txt(930, 773, '332.1', 14, color=BLUE, fontweight='bold')

# zoom connectors from panel (b) to panel (d)
for (x0, y0), (x1, y1) in [((79 + 1750 * 332 / 2019, 915), (90, 1055)), ((411, 915), (857, 1055))]:
    fig.add_artist(Line2D([x0 / W, x1 / W], [1 - y0 / H, 1 - y1 / H], transform=fig.transFigure,
                          color='#bdbdbd', lw=2.2, ls=(0, (7, 5)), zorder=0))

# ======================= panel (d) =======================
ad = box(90, 1041, 857, 1380)
clean(ad, size=13.5)
ad.set_xlim(1750, 2020.45)
ad.set_ylim(-5.006, 2.814)
ad.spines['left'].set_bounds(-5.006, 2.45)
ad.set_xticks(range(1750, 2001, 50))
ad.set_yticks([-4, -2, 0, 2])
ad.set_yticklabels(['−4', '−2', '0', '2'])
ad.tick_params(length=8)

ad.fill_between(erf_years, erf_aer_lo, erf_aer_hi, color='#dadada', lw=0)
co2v = np.array(erf_co2)
ad.fill_between(erf_years, co2v * 0.88, co2v * 1.1, color='#c98fd6', alpha=0.35, lw=0)
ad.fill_between(erf_years, np.array(erf_o3) * 0.5, np.array(erf_ch4) * 1.2, color='#f2dc8a', alpha=0.3, lw=0)
ad.fill_between(erf_years, np.array(erf_other) - 0.12, np.array(erf_other) + 0.06, color='#cfe8c4', alpha=0.5,
                lw=0)
ad.plot(erf_years, erf_other, color='#b5e0a0', lw=1.5)
x, y = xy(erf_solar)
ad.plot(x, y, color='#e8c88a', lw=1.6)
ad.plot(erf_years, erf_aer, color='#707070', lw=1.5)
ad.plot(erf_years, erf_halo, color='#2b8cd6', lw=1.6)
ad.plot(erf_years, erf_n2o, color='#16a08c', lw=1.6)
ad.plot(erf_years, erf_o3, color='#e9d86b', lw=1.6)
ad.plot(erf_years, erf_ch4, color='#c8792a', lw=1.6)
ad.plot(erf_years, erf_co2, color='#9b30b0', lw=1.6)
x, y = xy(erf_volcanic)
ad.plot(x, y, color='#1e6b1e', lw=2.6)
x, y = xy(erf_total)
ad.plot(x, y, color='black', lw=1.3, clip_on=False)
ad.hlines(0, 1800, 2019, color='black', lw=1.4, linestyles=(0, (4, 3)))

ar = ad.twinx()
clean(ar, keep=('right',), size=10.5)
ar.set_ylim(-0.0974, 2.212)
ar.spines['right'].set_bounds(-0.0974, 0.545)
ar.set_yticks([0.0, 0.1, 0.2, 0.3, 0.4, 0.5])
ar.set_yticklabels(['0.0', '0.1', '0.2', '0.3', '0.4', '0.5'])
ar.tick_params(axis='y', length=11, width=2, pad=3)
sns.scatterplot(x=decade_mid, y=erf_rate, ax=ar, s=150, color='#1a1a1a', edgecolor='none')

txt(39, 995, '(d)', TITLE)
txt(70, 995, 'The increase in effective radiative forcing since the late 19th century is driven predominantly by '
             'warming GHGs and cooling aerosol.', TITLE)
txt(70, 1014, 'ERF is changing at a faster rate since the 1970s.', TITLE)
txt(32, 1210, '(W m$^{-2}$)', 13.5, rotation=90, ha='center')
txt(918, 1335, '(W m$^{-2}$ per decade$^{-1}$)', 9.5, rotation=90, ha='center', color='#444444')
txt(491, 1320, 'Rate of change anthropogenic ERF', 11.5, color='#333333')
txt(126, 1058, 'Carbon dioxide (CO$_2$)', 11.5, color='#9b30b0')
txt(126, 1079, 'Methane (CH$_4$)', 11.5, color='#c8792a')
txt(126, 1099, 'Nitrous oxide (N$_2$O', 11.5, color='#16a08c')
txt(126, 1120, 'Ozone (O$_3$)', 11.5, color='#e6d060')
txt(275, 1057, 'Halogenated gases', 11.5, color='#2b8cd6')
txt(275, 1077, 'Tropospheric Aerosol', 11.5, color='#777777')
txt(275, 1097, 'Other anthropogenic', 11.5, color='#a8d89a')
txt(420, 1057, 'Volcanic', 11.5, color='#1e6b1e')
txt(420, 1077, 'Solar', 11.5, color='#e8c88a')
txt(420, 1097, 'Total', 11.5, color='black')

fig.savefig('out.png', dpi=100)
